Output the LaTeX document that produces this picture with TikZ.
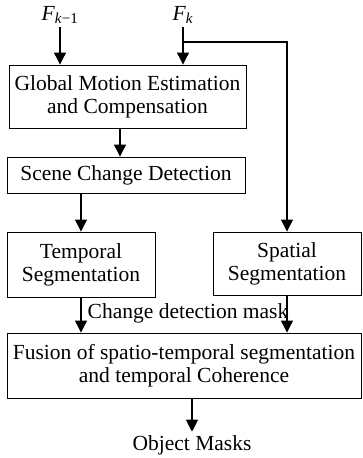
\documentclass[tikz,border=0pt]{standalone}
\usepackage{fontspec}
\setmainfont{Liberation Serif}
\usetikzlibrary{arrows.meta}

\begin{document}
\begin{tikzpicture}[x=1pt,y=-1pt,
    font=\fontsize{21.5}{23}\selectfont,
    blockbox/.style={draw, line width=0.9pt, align=center, inner sep=0pt},
    flow/.style={line width=1.1pt, -{Triangle[length=12pt,width=12pt]}},
    link/.style={line width=0.9pt}]
	\useasboundingbox (0,0) rectangle (363,458);
	% entradas
	\node (fkprev) at (60,15) {\textit{F}\textsubscript{\textit{k}−1}};
	\node (fk) at (183,15) {\textit{F}\textsubscript{\textit{k}}};
	% bloques
	\node[blockbox, minimum width=237pt, minimum height=63pt] (gme) at (127.5,96.5) {Global Motion Estimation\\and Compensation};
	\node[blockbox, minimum width=238pt, minimum height=36pt] (scd) at (126,175) {Scene Change Detection};
	\node[blockbox, minimum width=148pt, minimum height=65pt] (tseg) at (81,264.5) {Temporal\\Segmentation};
	\node[blockbox, minimum width=148pt, minimum height=63pt] (sseg) at (287,263.5) {Spatial\\Segmentation};
	\node[blockbox, minimum width=354pt, minimum height=65pt] (fus) at (184,365.5) {Fusion of spatio-temporal segmentation\\and temporal Coherence};
	\node (cdm) at (188,313) {Change detection mask};
	\node (omask) at (192,445) {Object Masks};
	\coordinate (split) at (183,42);
	\coordinate (gmeout) at (120,128);
	% conexiones
	\draw[flow] (fkprev.south) -- (fkprev.south |- gme.north);
	\draw[flow] (fk.south) -- (fk.south |- gme.north);
	\draw[flow] (split) -| (sseg.north);
	\draw[flow] (gmeout) -- (gmeout |- scd.north);
	\draw[flow] (tseg.north |- scd.south) -- (tseg.north);
	\draw[flow] (tseg.south) -- (tseg.south |- fus.north);
	\draw[flow] (sseg.south) -- (sseg.south |- fus.north);
	\draw[flow] (omask.north |- fus.south) -- (omask.north);
\end{tikzpicture}
\end{document}
